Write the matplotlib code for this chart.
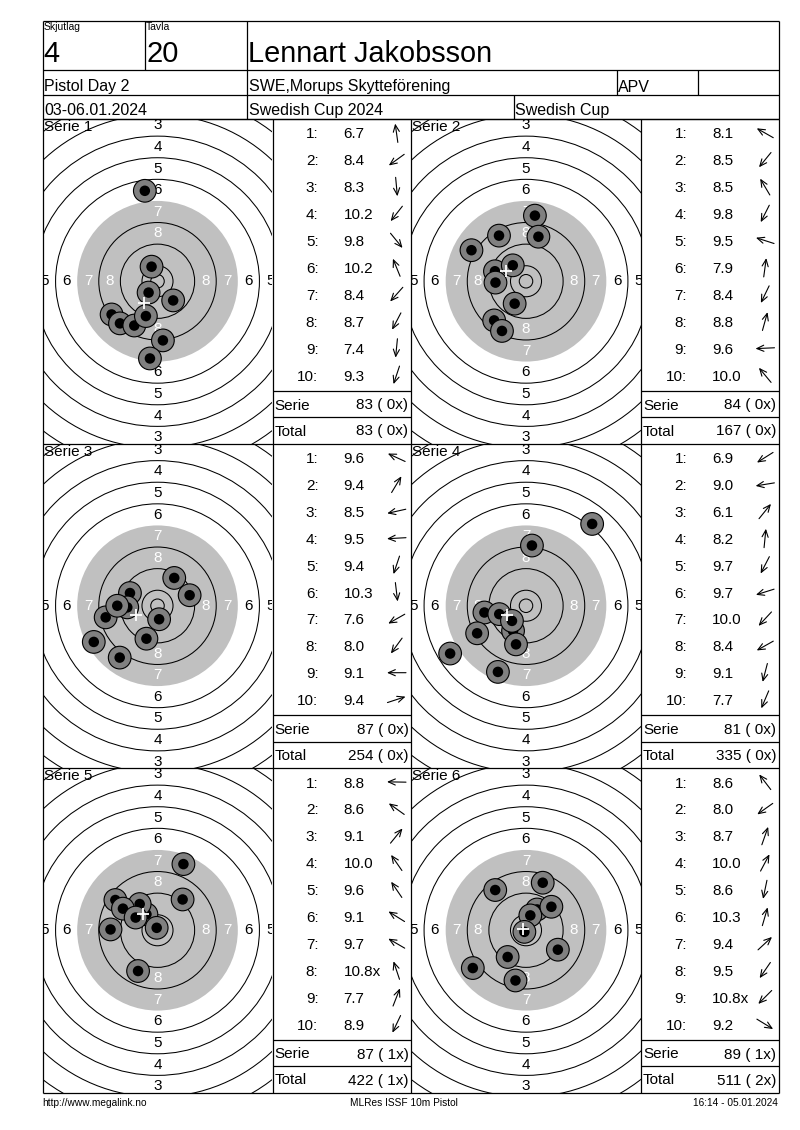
import matplotlib
matplotlib.use("Agg")
import matplotlib.pyplot as plt
import numpy as np
from matplotlib.patches import Circle

plt.rcParams["font.family"] = ["Liberation Sans", "DejaVu Sans"]

# --- header texts ---
relay_label, relay = "Skjutlag", "4"
lane_label, lane = "Tavla", "20"
shooter = "Lennart Jakobsson"
event = "Pistol Day 2"
club = "SWE,Morups Skytteförening"
shooter_class = "APV"
dates = "03-06.01.2024"
competition = "Swedish Cup 2024"
cup = "Swedish Cup"
footer_left = "http://www.megalink.no"
footer_mid = "MLRes ISSF 10m Pistol"
footer_right = "16:14 - 05.01.2024"

# --- shots: position in mm from target centre, decimal score,
#     shot numbers (1-based) that hit the inner ten ---
serie1_x = [-4.7, -17.0, 2.0, -3.3, 5.8, -2.2, -13.9, -8.6, -2.8, -4.3]
serie1_y = [33.5, -12.3, -21.9, -4.2, -7.1, 5.4, -15.6, -16.4, -28.6, -12.9]
serie1_score = [6.7, 8.4, 8.3, 10.2, 9.8, 10.2, 8.4, 8.7, 7.4, 9.3]
serie1_inner = []

serie2_x = [-20.2, -11.8, -10.0, -4.2, -11.5, 3.3, -8.9, 4.6, -11.3, -4.9]
serie2_y = [11.5, -14.5, 16.9, -8.3, 3.7, 24.3, -18.4, 16.5, -0.5, 5.9]
serie2_score = [8.1, 8.5, 8.5, 9.8, 9.5, 7.9, 8.4, 8.8, 9.6, 10.0]
serie2_inner = []

serie3_x = [-10.2, 6.2, -19.2, -11.2, -4.1, 0.6, -23.6, -14.0, -14.9, 11.9]
serie3_y = [4.7, 10.3, -4.3, -0.6, -12.2, -5.0, -13.4, -19.2, 0.0, 3.9]
serie3_score = [9.6, 9.4, 8.5, 9.5, 9.4, 10.3, 7.6, 8.0, 9.1, 9.4]
serie3_inner = []

serie4_x = [-28.1, -15.4, 24.5, 2.2, -4.8, -9.9, -5.2, -18.1, -3.7, -10.4]
serie4_y = [-17.7, -2.5, 30.3, 22.3, -9.3, -3.1, -5.6, -10.2, -14.3, -24.5]
serie4_score = [6.9, 9.0, 6.1, 8.2, 9.7, 9.7, 10.0, 8.4, 9.1, 7.7]
serie4_inner = []

serie5_x = [-17.4, -15.6, 9.3, -4.1, -6.6, -12.8, -8.1, -0.3, 9.6, -7.2]
serie5_y = [0.3, 11.2, 11.4, 5.9, 9.7, 8.0, 4.7, 0.9, 24.5, -15.1]
serie5_score = [8.8, 8.6, 9.1, 10.0, 9.6, 9.1, 9.7, 10.8, 7.7, 8.9]
serie5_inner = [8]

serie6_x = [-11.4, -19.7, 6.2, 4.1, -3.9, 1.6, 9.4, -6.8, -0.6, 11.8]
serie6_y = [14.9, -14.0, 17.6, 7.7, -18.6, 5.5, 8.7, -9.9, -0.6, -7.2]
serie6_score = [8.6, 8.0, 8.7, 10.0, 8.6, 10.3, 9.4, 9.5, 10.8, 9.2]
serie6_inner = [9]

series = [
    (serie1_x, serie1_y, serie1_score, serie1_inner),
    (serie2_x, serie2_y, serie2_score, serie2_inner),
    (serie3_x, serie3_y, serie3_score, serie3_inner),
    (serie4_x, serie4_y, serie4_score, serie4_inner),
    (serie5_x, serie5_y, serie5_score, serie5_inner),
    (serie6_x, serie6_y, serie6_score, serie6_inner),
]

# ISSF 10m pistol target (mm)
ring_numbers = list(range(1, 11))
ring_radius = {n: 5.75 + 8 * (10 - n) for n in ring_numbers}
inner_ten = 2.5
black_ring = 7
shot_outer, shot_inner = 4.2, 1.95

# --- page geometry (pixels) ---
W, H = 800, 1130
PX_MM = 2.70
LEFT, RIGHT = 42.5, 778.5
COLS = [(42.5, 272.5, 411.0), (411.0, 641.0, 778.5)]  # target left, table left, table right
ROW_TOP, ROW_H = 119.0, 324.5
LINE_H = 26.9
LW = 0.9

fig = plt.figure(figsize=(W / 100, H / 100), dpi=100)


def draw_target(x0, x1, y0, y1, xs, ys):
    cx, cy = (x0 + x1) / 2, (y0 + y1) / 2
    ax = fig.add_axes([x0 / W, 1 - y1 / H, (x1 - x0) / W, (y1 - y0) / H])
    xl = ((x0 - cx) / PX_MM, (x1 - cx) / PX_MM)
    yl = ((cy - y1) / PX_MM, (cy - y0) / PX_MM)
    ax.set_xlim(*xl)
    ax.set_ylim(*yl)
    ax.axis("off")
    ax.add_patch(Circle((0, 0), ring_radius[black_ring], fc="#c0c0c0", ec="none", zorder=1))
    for n in ring_numbers:
        if n != black_ring:
            ax.add_patch(Circle((0, 0), ring_radius[n], fill=False, ec="black", lw=0.75, zorder=2))
    ax.add_patch(Circle((0, 0), inner_ten, fill=False, ec="black", lw=0.75, zorder=2))
    for n in range(1, 9):
        r = ring_radius[n] - 4
        col = "white" if n >= black_ring else "black"
        for px, py in [(0, r), (0, -r), (r, 0), (-r, 0)]:
            # only the numbers that (at least partly) fall inside the panel
            if not (xl[0] - 1.5 <= px <= xl[1] + 1.5 and yl[0] - 1.5 <= py <= yl[1] + 1.5):
                continue
            ax.text(px, py, str(n), ha="center", va="center", fontsize=11,
                    color=col, clip_on=True, zorder=3)
    for i, (sx, sy) in enumerate(zip(xs, ys)):
        ax.add_patch(Circle((sx, sy), shot_outer, fc="#808080", ec="black", lw=0.8, zorder=10 + 2 * i))
        ax.add_patch(Circle((sx, sy), shot_inner, fc="black", ec="none", zorder=11 + 2 * i))
    ax.plot(np.mean(xs), np.mean(ys), marker="+", ms=9, mew=1.3, color="white", zorder=60)


# targets first, overlay with lines and texts on top
for k, (xs, ys, sc, inner) in enumerate(series):
    row, col = divmod(k, 2)
    x0, x1, _ = COLS[col]
    y0 = ROW_TOP + row * ROW_H
    draw_target(x0, x1, y0, y0 + ROW_H, xs, ys)

ov = fig.add_axes([0, 0, 1, 1])
ov.set_xlim(0, W)
ov.set_ylim(H, 0)
ov.axis("off")
ov.patch.set_alpha(0)


def hline(y, xa, xb):
    ov.plot([xa, xb], [y, y], color="black", lw=LW, solid_capstyle="butt")


def vline(x, ya, yb):
    ov.plot([x, x], [ya, yb], color="black", lw=LW, solid_capstyle="butt")


# header table
for y in [20.5, 69.5, 94.5, 118.5]:
    hline(y, LEFT, RIGHT)
vline(LEFT, 20.5, 118.5)
vline(RIGHT, 20.5, 118.5)
vline(144.5, 20.5, 69.5)
vline(246.5, 20.5, 118.5)
vline(616.5, 69.5, 94.5)
vline(697.5, 69.5, 94.5)
vline(513.5, 94.5, 118.5)

ov.text(44, 22, relay_label, ha="left", va="top", fontsize=7.5)
ov.text(146, 22, lane_label, ha="left", va="top", fontsize=7.5)
ov.text(43.5, 62.5, relay, ha="left", va="baseline", fontsize=21)
ov.text(146.5, 62.5, lane, ha="left", va="baseline", fontsize=21)
ov.text(248, 62.5, shooter, ha="left", va="baseline", fontsize=20.8)
ov.text(44, 91.5, event, ha="left", va="baseline", fontsize=11.5)
ov.text(249, 91.5, club, ha="left", va="baseline", fontsize=11.5)
ov.text(618, 91.5, shooter_class, ha="left", va="baseline", fontsize=11.5)
ov.text(44, 115, dates, ha="left", va="baseline", fontsize=11.5)
ov.text(249, 115, competition, ha="left", va="baseline", fontsize=11.5)
ov.text(515, 115, cup, ha="left", va="baseline", fontsize=11.5)

# panel grid
for r in range(4):
    hline(ROW_TOP + r * ROW_H, LEFT, RIGHT)
for x in [LEFT, 272.5, 411.0, 641.0, RIGHT]:
    vline(x, ROW_TOP, ROW_TOP + 3 * ROW_H)

total = 0
total_x = 0
ARROW_L = 19
for k, (xs, ys, sc, inner) in enumerate(series):
    row, col = divmod(k, 2)
    x0, tx, tx1 = COLS[col]
    y0 = ROW_TOP + row * ROW_H
    ov.text(x0 + 1, y0 + 1, f"Serie {k + 1}", ha="left", va="top", fontsize=11, zorder=5)

    for i, v in enumerate(sc):
        yc = y0 + 14 + LINE_H * i
        ov.text(tx + 46, yc + 5.5, f"{i + 1}:", ha="right", va="baseline", fontsize=11)
        label = f"{v:.1f}" + ("x" if (i + 1) in inner else "")
        ov.text(tx + 71, yc + 5.5, label, ha="left", va="baseline", fontsize=11)
        ang = np.arctan2(ys[i], xs[i])
        ax_c = tx + 124
        dx, dy = np.cos(ang) * ARROW_L / 2, -np.sin(ang) * ARROW_L / 2
        ov.annotate("", xy=(ax_c + dx, yc + dy), xytext=(ax_c - dx, yc - dy),
                    arrowprops=dict(arrowstyle="->,head_length=0.5,head_width=0.22",
                                    lw=0.8, color="black", shrinkA=0, shrinkB=0))

    serie_sum = int(sum(int(v) for v in sc))
    total += serie_sum
    total_x += len(inner)
    hline(y0 + 271.7, tx, tx1)
    hline(y0 + 298.3, tx, tx1)
    ov.text(tx + 2, y0 + 285 + 5.5, "Serie", ha="left", va="baseline", fontsize=11)
    ov.text(tx1 - 2.5, y0 + 285 + 5.5, f"{serie_sum} ({len(inner):2d}x)", ha="right",
            va="baseline", fontsize=11)
    ov.text(tx + 2, y0 + 311 + 5.5, "Total", ha="left", va="baseline", fontsize=11)
    ov.text(tx1 - 2.5, y0 + 311 + 5.5, f"{total} ({total_x:2d}x)", ha="right",
            va="baseline", fontsize=11)

# footer
ov.text(42, 1106, footer_left, ha="left", va="baseline", fontsize=7.3)
ov.text(404, 1106, footer_mid, ha="center", va="baseline", fontsize=7.3)
ov.text(778, 1106, footer_right, ha="right", va="baseline", fontsize=7.3)

fig.savefig("out.png", dpi=100, facecolor="white")
